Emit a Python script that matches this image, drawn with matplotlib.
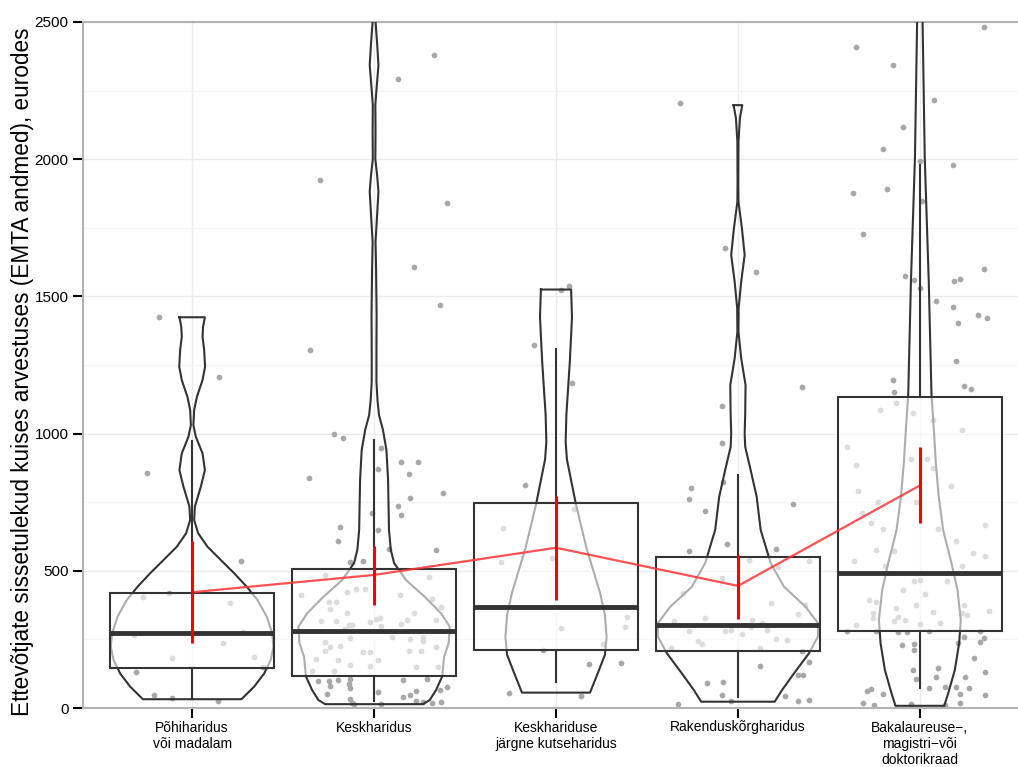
import matplotlib
matplotlib.use("Agg")
import matplotlib.pyplot as plt
import numpy as np

plt.rcParams['font.family'] = ['Liberation Sans', 'DejaVu Sans']

categories = [
    "Põhiharidus\nvõi madalam",
    "Keskharidus",
    "Keskhariduse\njärgne kutseharidus",
    "Rakenduskõrgharidus",
    "Bakalaureuse\u2212,\nmagistri\u2212või\ndoktorikraad",
]
y_label = "Ettevõtjate sissetulekud kuises arvestuses (EMTA andmed), eurodes"

# box summaries (q1, median, q3, whisker low, whisker high)
q1 = [145, 117, 213, 209, 280]
med = [275, 281, 368, 301, 493]
q3 = [420, 505, 746, 550, 1132]
whis_lo = [31, 25, 93, 41, 74]
whis_hi = [973, 977, 1310, 849, 1980]

# mean with confidence interval
means = [422, 485, 584, 445, 811]
ci_lo = [236, 375, 395, 326, 676]
ci_hi = [607, 590, 773, 557, 952]

# violin outlines: value levels and half-width (x units)
vio_y = [
    [1424, 1390, 1353, 1305, 1244, 1195, 1134, 1086, 1031, 989, 928, 867, 807, 734, 685, 637, 588, 539, 491,
     442, 394, 333, 272, 223, 175, 126, 78, 32],
    [2600, 2501, 2420, 2343, 2260, 2198, 2100, 2000, 1940, 1882, 1800, 1699, 1600, 1432, 1300, 1189, 1120,
     1068, 1013, 940, 831, 649, 576, 528, 466, 405, 345, 296, 236, 187, 114, 66, 29, 14],
    [1525, 1424, 1262, 1068, 971, 906, 744, 582, 420, 339, 258, 194, 129, 56],
    [2197, 2150, 2064, 1918, 1845, 1748, 1651, 1554, 1457, 1371, 1274, 1177, 1068, 1000, 952, 867, 770, 649,
     528, 442, 369, 309, 260, 199, 126, 66, 23],
    [2600, 2501, 2004, 1554, 1141, 1013, 892, 770, 649, 527, 430, 321, 236, 138, 54, 8],
]
vio_w = [
    [0.070, 0.060, 0.057, 0.066, 0.071, 0.057, 0.026, 0.011, 0.007, 0.020, 0.057, 0.070, 0.048, 0.015, 0.011,
     0.033, 0.084, 0.158, 0.231, 0.300, 0.359, 0.410, 0.440, 0.447, 0.432, 0.396, 0.341, 0.271],
    [0.008, 0.008, 0.017, 0.024, 0.014, 0.007, 0.008, 0.007, 0.017, 0.024, 0.017, 0.008, 0.011, 0.014, 0.013,
     0.013, 0.019, 0.027, 0.049, 0.068, 0.077, 0.082, 0.092, 0.110, 0.176, 0.279, 0.368, 0.416, 0.410, 0.385,
     0.374, 0.341, 0.306, 0.269],
    [0.083, 0.088, 0.076, 0.057, 0.053, 0.060, 0.109, 0.168, 0.242, 0.269, 0.278, 0.269, 0.231, 0.187],
    [0.024, 0.011, 0.003, 0.002, 0.003, 0.022, 0.037, 0.018, 0.004, 0.003, 0.018, 0.042, 0.040, 0.037, 0.040,
     0.070, 0.103, 0.125, 0.180, 0.253, 0.372, 0.440, 0.440, 0.390, 0.308, 0.243, 0.202],
    [0.014, 0.015, 0.027, 0.049, 0.064, 0.077, 0.088, 0.104, 0.128, 0.174, 0.207, 0.225, 0.216, 0.192, 0.156, 0.134],
]

# jittered observations (value, horizontal jitter)
pts_y = [
    [1425, 1206, 856, 536, 405, 419, 383, 266, 237, 182, 186, 131, 47, 36, 26, 277, 149],
    [2380, 2292, 1924, 1840, 1607, 1469, 1305, 999, 984, 948, 896, 896, 838, 853, 871, 783, 765, 736, 703, 711,
     660, 649, 609, 579, 576, 532, 536, 485, 477, 412, 423, 434, 434, 412, 397, 386, 386, 361, 368, 346, 346,
     317, 317, 313, 324, 328, 306, 321, 321, 302, 302, 299, 288, 259, 255, 251, 259, 244, 241, 222, 226, 222,
     208, 208, 204, 204, 208, 179, 175, 175, 157, 153, 149, 149, 135, 135, 98, 98, 102, 106, 102, 106, 80, 87,
     77, 51, 73, 58, 62, 47, 40, 66, 33, 18, 26, 22, 18, 22, 15, 15],
    [1523, 1537, 1323, 1184, 813, 725, 656, 532, 547, 292, 332, 295, 233, 211, 160, 164, 55, 44],
    [2206, 1676, 1590, 1171, 1102, 967, 825, 803, 760, 718, 745, 598, 573, 579, 539, 537, 513, 473, 418, 382,
     374, 341, 328, 322, 309, 316, 294, 280, 280, 285, 283, 269, 243, 233, 251, 247, 220, 219, 209, 169, 153,
     121, 119, 90, 95, 48, 26, 44, 26, 29, 13],
    [2483, 2408, 2343, 2217, 2117, 2037, 1993, 1980, 1877, 1890, 1847, 1728, 1575, 1558, 1529, 1555, 1562, 1601,
     1482, 1460, 1433, 1422, 1403, 1266, 1196, 1152, 1172, 1164, 1113, 1085, 1075, 1048, 1014, 950, 887, 909,
     906, 876, 810, 790, 751, 750, 712, 673, 653, 666, 651, 607, 575, 573, 564, 553, 536, 519, 517, 463, 466,
     463, 429, 417, 392, 386, 376, 376, 364, 347, 349, 347, 338, 352, 327, 333, 317, 322, 307, 311, 302, 280,
     280, 277, 278, 282, 280, 260, 254, 241, 230, 234, 238, 210, 181, 147, 140, 130, 114, 113, 105, 70, 63, 51,
     72, 78, 78, 72, 50, 47, 17, 10, 15, 10, 19],
]
pts_dx = [
    [-0.18, 0.15, -0.25, 0.27, -0.27, -0.13, 0.21, -0.32, 0.17, -0.11, 0.34, -0.31, -0.21, -0.11, 0.14, 0.28, 0.39],
    [0.33, 0.13, -0.30, 0.40, 0.22, 0.36, -0.35, -0.22, -0.17, 0.04, 0.15, 0.24, -0.36, 0.19, 0.02, 0.38, 0.20,
     0.13, 0.15, -0.01, -0.19, 0.02, -0.20, 0.08, 0.34, -0.13, -0.06, -0.27, 0.30, -0.40, -0.15, -0.10, -0.05,
     0.14, 0.32, -0.25, -0.21, -0.24, 0.37, -0.15, 0.22, -0.29, -0.21, -0.02, 0.01, 0.03, 0.15, 0.18, 0.34,
     -0.14, -0.12, 0.04, -0.16, 0.10, -0.13, 0.20, 0.27, 0.27, -0.27, -0.24, -0.19, 0.34, 0.19, -0.27, -0.06,
     -0.02, 0.26, -0.32, -0.20, 0.02, -0.13, -0.02, 0.23, 0.35, -0.34, -0.22, -0.31, -0.25, -0.20, -0.13, 0.16,
     0.29, -0.24, -0.14, 0.40, -0.26, -0.13, 0.02, 0.23, 0.20, 0.16, 0.36, -0.13, -0.12, 0.23, 0.27, 0.32,
     0.37, -0.11, 0.04],
    [0.03, 0.07, -0.12, 0.09, -0.17, 0.10, -0.29, -0.30, -0.02, 0.03, 0.39, 0.38, 0.26, -0.07, 0.18, 0.36,
     -0.26, 0.14],
    [-0.32, -0.07, 0.10, 0.35, -0.09, -0.09, -0.08, -0.26, -0.27, -0.18, 0.30, -0.06, -0.27, 0.21, 0.06, 0.39,
     0.22, -0.09, -0.30, 0.18, 0.37, 0.33, -0.18, 0.08, 0.13, -0.35, 0.07, -0.27, -0.07, -0.04, 0.16, 0.02,
     -0.22, -0.20, 0.21, 0.27, -0.37, 0.12, 0.35, 0.39, 0.12, 0.33, 0.36, -0.17, -0.08, -0.09, -0.04, 0.26,
     0.33, 0.39, -0.33],
    [0.35, -0.35, -0.15, 0.08, -0.09, -0.20, 0.00, 0.18, -0.37, -0.18, 0.01, -0.31, -0.08, -0.03, 0.00, 0.19,
     0.22, 0.35, 0.09, 0.18, 0.32, 0.37, 0.21, 0.20, -0.15, -0.14, 0.24, 0.28, -0.13, -0.22, -0.04, 0.07, 0.23,
     -0.40, -0.35, -0.05, 0.04, 0.07, 0.17, -0.34, -0.23, -0.02, -0.32, -0.27, -0.20, 0.36, 0.10, 0.20, -0.24,
     -0.14, 0.29, 0.36, -0.36, -0.19, 0.23, -0.03, 0.00, 0.15, -0.09, 0.03, -0.28, -0.24, -0.02, 0.24, -0.13,
     -0.26, 0.07, 0.23, 0.26, 0.38, -0.26, -0.12, -0.14, -0.08, 0.00, 0.11, -0.35, -0.40, -0.24, -0.12, -0.07,
     0.05, 0.33, 0.24, 0.35, 0.33, -0.10, -0.03, 0.21, -0.03, 0.30, 0.10, -0.04, 0.36, 0.09, 0.25, -0.02,
     -0.27, -0.29, -0.20, 0.05, 0.14, 0.20, 0.27, 0.22, 0.36, -0.31, -0.25, -0.05, 0.14, 0.22],
]

dark = "#333333"
pos = np.arange(1, len(categories) + 1)

fig = plt.figure(figsize=(10.18, 7.67), dpi=100)
ax = fig.add_axes([83 / 1018, 59 / 767, 946 / 1018, 686 / 767])

# points
for i, p in enumerate(pos):
    ax.scatter(p + np.array(pts_dx[i]), pts_y[i], s=17, color="#a8a8a8", linewidths=0, zorder=2)

# violins (outline only)
for i, p in enumerate(pos):
    y = np.array(vio_y[i])
    w = np.array(vio_w[i])
    xs = np.concatenate([p - w, (p + w)[::-1], [p - w[0]]])
    ys = np.concatenate([y, y[::-1], [y[0]]])
    ax.plot(xs, ys, color=dark, lw=1.5, zorder=3, solid_joinstyle="round")

# boxes
stats = []
for i in range(len(categories)):
    stats.append(dict(q1=q1[i], med=med[i], q3=q3[i], whislo=whis_lo[i], whishi=whis_hi[i], fliers=[]))
ax.bxp(stats, positions=pos, widths=0.9, showcaps=False, showfliers=False, patch_artist=True,
       boxprops=dict(facecolor=(1, 1, 1, 0.6), edgecolor=dark, lw=1.5),
       medianprops=dict(color=dark, lw=3.5, solid_capstyle="butt"),
       whiskerprops=dict(color=dark, lw=1.5), zorder=4)

# means with CI
ax.vlines(pos, ci_lo, ci_hi, color="red", lw=2.2, zorder=6)
ax.plot(pos, means, color="#ff3333", alpha=0.85, lw=1.6, zorder=5)

ax.set_xlim(0.4, 5.6)
ax.set_ylim(0, 2500)
ax.set_xticks(pos)
ax.set_xticklabels(categories, fontsize=10)
ax.set_yticks(np.arange(0, 2501, 500))
ax.set_yticks(np.arange(250, 2500, 500), minor=True)
ax.tick_params(axis="y", which="minor", length=0)
ax.tick_params(axis="both", which="major", length=7, width=1.5, color="black", labelsize=11)
ax.tick_params(axis="x", labelsize=10, pad=2)
ax.grid(which="major", color="#ebebeb", lw=1)
ax.grid(which="minor", axis="y", color="#f5f5f5", lw=1)
ax.set_axisbelow(True)
for s in ax.spines.values():
    s.set_color("#b3b3b3")
    s.set_linewidth(1.5)
ax.set_ylabel(y_label, fontsize=16.3)
ax.yaxis.set_label_coords(-0.052, 0.49)

fig.savefig("out.png", dpi=100)
